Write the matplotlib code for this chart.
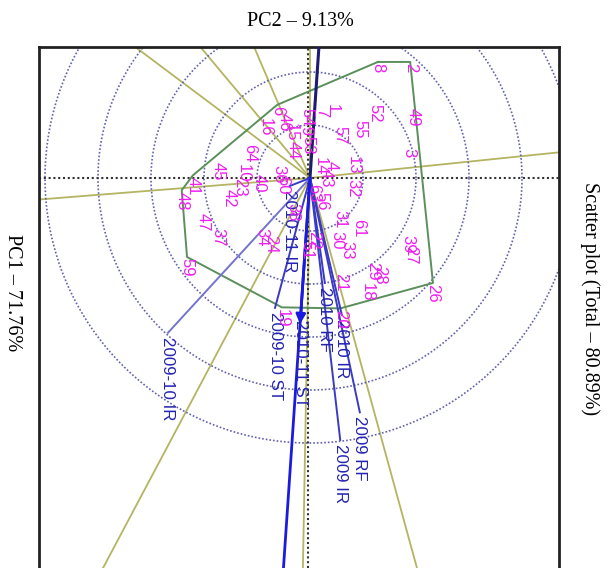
import numpy as np
import matplotlib
matplotlib.use("Agg")
import matplotlib.pyplot as plt

# genotype scores (biplot units, already in the rotated view)
geno_ids = ["8", "2", "49", "3", "52", "55", "1", "7", "57", "13", "14", "4", "43", "32",
            "56", "63", "31", "61", "30", "33", "39", "27", "29", "28", "18", "21", "26",
            "19", "20", "51", "22", "38", "34", "24", "37", "47", "59", "48", "41", "45",
            "42", "40", "64", "10", "23", "36", "60", "44", "16", "6", "46", "15", "54",
            "9", "53"]
geno_x = [1.28, 1.89, 1.94, 1.87, 1.23, 0.94, 0.42, 0.21, 0.57, 0.81, 0.19, 0.40, 0.30, 0.81,
          0.23, 0.06, 0.57, 0.91, 0.51, 0.70, 1.85, 1.89, 1.19, 1.32, 1.08, 0.57, 2.32,
          -0.53, 0.57, -0.06, 0.06, -0.32, -0.91, -0.75, -1.74, -2.02, -2.32, -2.42, -2.21, -1.74,
          -1.53, -0.96, -1.13, -1.26, -1.32, -0.58, -0.51, -0.32, -0.85, -0.62, -0.49, -0.36, -0.06,
          -0.08, -0.04]
geno_y = [2.19, 2.19, 1.34, 0.60, 1.43, 1.13, 1.42, 1.34, 1.00, 0.45, 0.43, 0.34, 0.19, 0.00,
          -0.23, -0.08, -0.57, -0.75, -0.98, -1.17, -1.04, -1.26, -1.55, -1.64, -1.96, -1.77, -1.98,
          -2.44, -2.46, -1.17, -0.98, -0.45, -0.92, -1.04, -0.91, -0.64, -1.49, -0.23, 0.05, 0.32,
          -0.19, 0.11, 0.66, 0.30, 0.02, 0.28, 0.06, 0.72, 1.15, 1.38, 1.25, 1.06, 1.34,
          1.00, 0.81]

# environment vectors
env_names = ["2009-10 IR", "2010-11 IR", "2009-10 ST", "2010-11 ST",
             "2010 RF", "2010 IR", "2009 RF", "2009 IR"]
env_x = [-2.68, -0.38, -0.66, -0.17, 0.28, 0.60, 0.94, 0.57]
env_y = [-2.92, -0.15, -2.45, -2.60, -1.98, -2.58, -4.42, -4.94]

# vertices of the which-won-where polygon
hull_ids = ["8", "2", "26", "20", "19", "59", "48", "41", "6"]

pc1_label = "PC1 – 71.76%"
pc2_label = "PC2 – 9.13%"
title = "Scatter plot (Total – 80.89%)"

MAGENTA = "#f01ef0"
ENV_BLUE = "#2424b0"
OLIVE = "#b4b462"
GREEN = "#5b8f5b"
CIRCLE = "#6262ae"

fig = plt.figure(figsize=(6.13, 5.68), dpi=100)
ax = fig.add_axes([39 / 613, 0.0, 520 / 613, 521 / 568])
ax.set_xlim(-5.113, 4.698)
ax.set_ylim(-7.358, 2.472)
ax.set_xticks([])
ax.set_yticks([])
for side in ["left", "top", "right"]:
    ax.spines[side].set_linewidth(2.0)
    ax.spines[side].set_color("#222222")
ax.spines["bottom"].set_visible(False)

pos = {g: (x, y) for g, x, y in zip(geno_ids, geno_x, geno_y)}
hull = np.array([pos[g] for g in hull_ids])

# sector rays: perpendicular from origin to each polygon side
for i in range(len(hull)):
    p, q = hull[i], hull[(i + 1) % len(hull)]
    d = q - p
    t = -np.dot(p, d) / np.dot(d, d)
    foot = p + t * d
    far = foot / np.linalg.norm(foot) * 20
    ax.plot([0, far[0]], [0, far[1]], color=OLIVE, lw=1.3, zorder=1)

# concentric circles
theta = np.linspace(0, 2 * np.pi, 400)
for r in range(1, 6):
    ax.plot(r * np.cos(theta), r * np.sin(theta), color=CIRCLE, lw=1.2,
            linestyle=(0, (1, 1.2)), zorder=1)

ax.axhline(0, color="#333333", lw=1.5, linestyle=(0, (1, 1.3)), zorder=2)
ax.axvline(-0.04, color="#333333", lw=1.5, linestyle=(0, (1, 1.3)), zorder=2)

closed = np.vstack([hull, hull[:1]])
ax.plot(closed[:, 0], closed[:, 1], color=GREEN, lw=1.4, zorder=2)

# average environment axis
aea = np.array([np.mean(env_x), np.mean(env_y)])
unit = aea / np.linalg.norm(aea)
ax.plot([0, -unit[0] * 20], [0, -unit[1] * 20], color="#1c1c70", lw=2.2, zorder=3)
ax.plot([0, unit[0] * 20], [0, unit[1] * 20], color="#1a1ae0", lw=2.0, zorder=3)
ax.annotate("", xy=(aea[0], aea[1]), xytext=(0, 0),
            arrowprops=dict(arrowstyle="-|>", color="#1a1ae0", lw=2.0,
                            mutation_scale=14, shrinkA=0, shrinkB=0), zorder=4)

for name, x, y in zip(env_names, env_x, env_y):
    col = "#7474cc" if name == "2009-10 IR" else "#3a3ac4"
    ax.plot([0, x], [0, y], color=col, lw=1.4, zorder=3)
    ax.annotate(name, (x, y), xytext=(0, -3), textcoords="offset points",
                rotation=-90, rotation_mode="anchor", ha="left", va="center",
                color=ENV_BLUE, fontsize=12.2, family="Liberation Sans", zorder=5)

for g, x, y in zip(geno_ids, geno_x, geno_y):
    ax.annotate(g, (x, y), xytext=(0, -1), textcoords="offset points",
                rotation=-90, rotation_mode="anchor", ha="left", va="center",
                color=MAGENTA, fontsize=12, family="Liberation Sans", zorder=5)

serif = "Liberation Serif"
fig.text(300 / 613, 1 - 22 / 568, pc2_label, ha="center", va="center",
         fontsize=14.5, family=serif)
fig.text(12 / 613, 1 - 293 / 568, pc1_label, ha="center", va="center",
         rotation=-90, fontsize=14.5, family=serif)
fig.text(590 / 613, 1 - 299 / 568, title, ha="center", va="center",
         rotation=-90, fontsize=14.5, family=serif)

fig.savefig("out.png", dpi=100)
